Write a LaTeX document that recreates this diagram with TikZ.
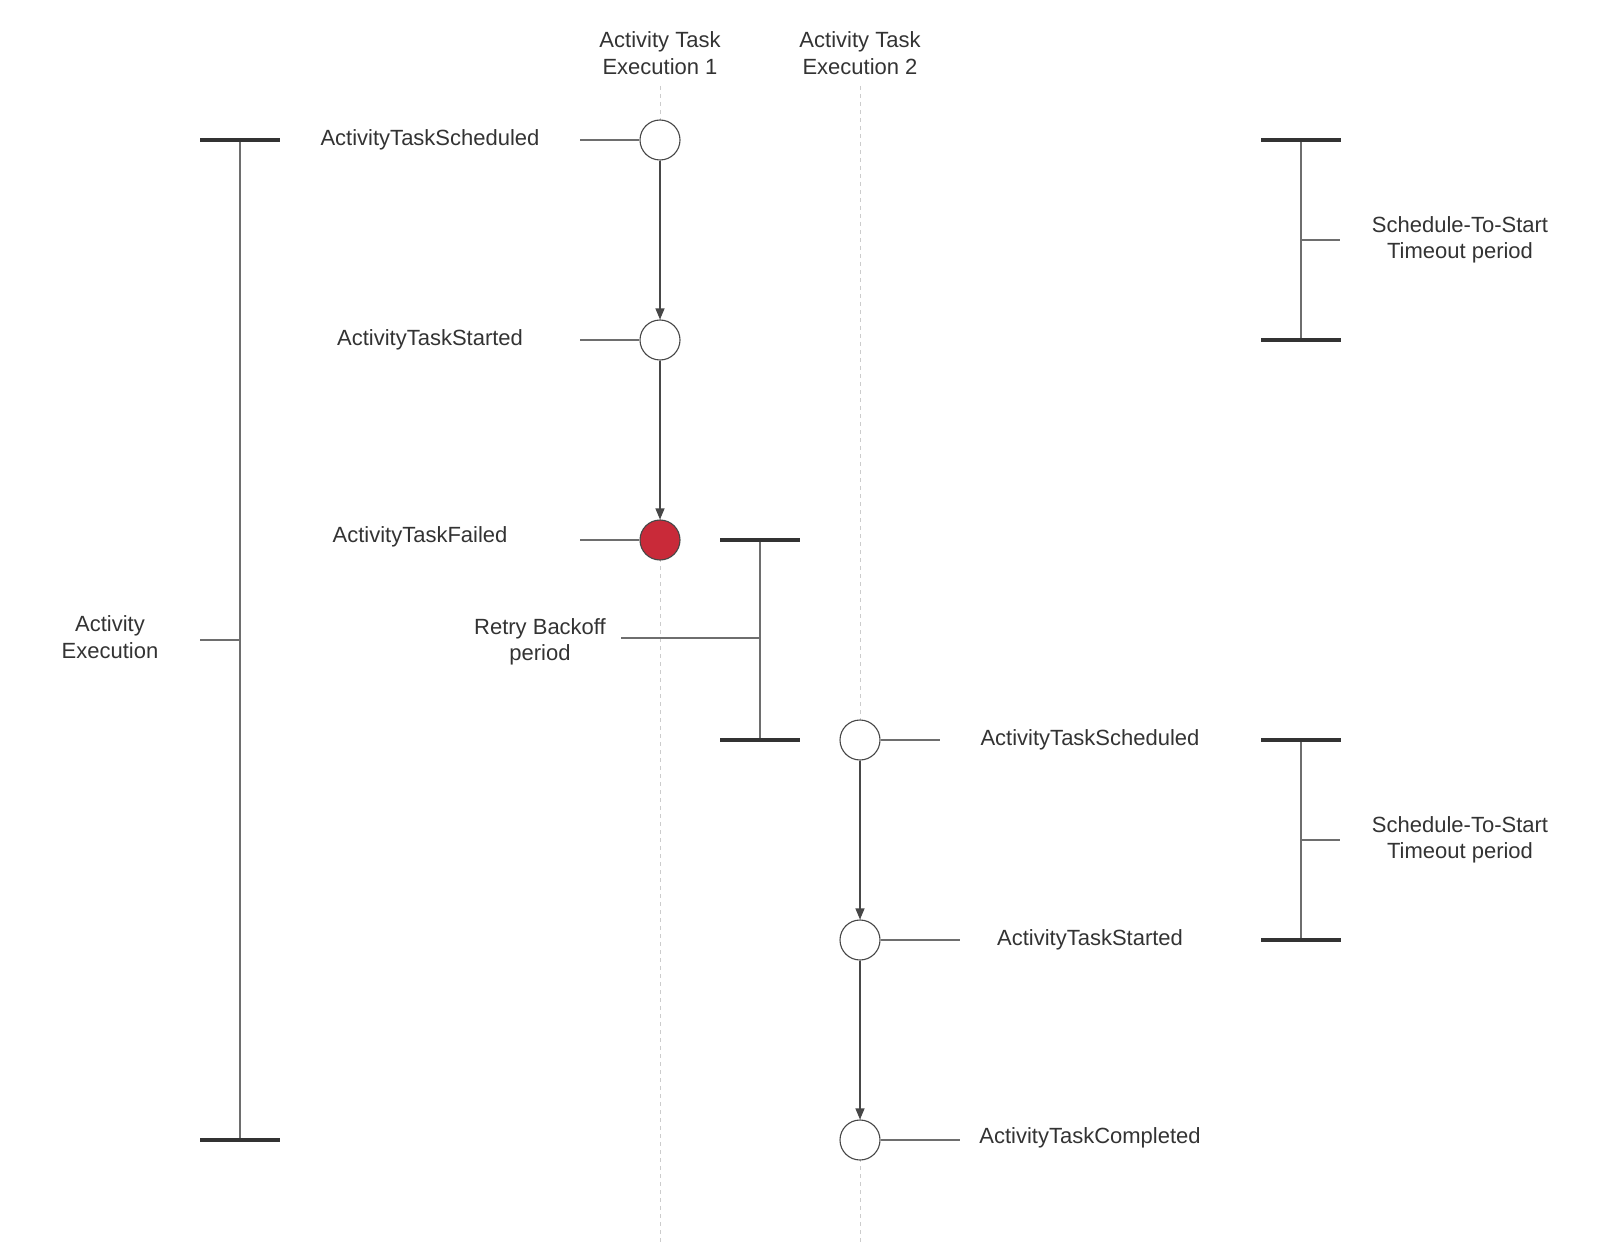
\documentclass[tikz,border=0pt]{standalone}
\usepackage{fontspec}
\setmainfont{Liberation Sans}
\usetikzlibrary{arrows.meta}
\definecolor{ink}{HTML}{333333}
\definecolor{wire}{HTML}{6E6E6E}
\definecolor{life}{HTML}{CCCCCC}
\definecolor{failred}{HTML}{C92A39}

\begin{document}
\begin{tikzpicture}[x=0.5pt,y=-0.5pt,
  evt/.style={circle,draw=ink!90,line width=0.55pt,fill=white,minimum size=20pt,inner sep=0pt},
  failevt/.style={evt,fill=failred},
  lbl/.style={font=\fontsize{11}{13.3}\selectfont,text=ink,align=center,inner sep=0pt},
  lifeline/.style={draw=life,line width=0.5pt,dash pattern=on 2pt off 2pt},
  tie/.style={draw=wire,line width=0.6pt},
  flow/.style={draw=ink!90,line width=0.6pt,-{Triangle[length=5.5pt,width=4.5pt]}},
  endbar/.style={draw=ink,line width=2pt},
]
\useasboundingbox (0,0) rectangle (1601,1246);

% lane headers and lifelines
\node[lbl] (lane1) at (660,53) {Activity Task\\Execution 1};
\node[lbl] (lane2) at (860,53) {Activity Task\\Execution 2};
\coordinate (top1) at (660,86);
\coordinate (top2) at (860,86);
\coordinate (end1) at (660,1246);
\coordinate (end2) at (860,1246);
\path[lifeline] (top1) -- (end1);
\path[lifeline] (top2) -- (end2);

% first execution
\node[evt] (s1) at (660,140) {};
\node[evt] (t1) at (660,340) {};
\node[failevt] (f1) at (660,540) {};
% second execution
\node[evt] (s2) at (860,740) {};
\node[evt] (t2) at (860,940) {};
\node[evt] (c2) at (860,1140) {};

\path[flow] (s1) -- (t1);
\path[flow] (t1) -- (f1);
\path[flow] (s2) -- (t2);
\path[flow] (t2) -- (c2);

% event labels
\node[lbl] (ls1) at (430,140) {ActivityTaskScheduled};
\node[lbl] (lt1) at (430,340) {ActivityTaskStarted};
\node[lbl] (lf1) at (420,537) {ActivityTaskFailed};
\node[lbl] (ls2) at (1090,740) {ActivityTaskScheduled};
\node[lbl] (lt2) at (1090,940) {ActivityTaskStarted};
\node[lbl] (lc2) at (1090,1138) {ActivityTaskCompleted};

\coordinate (ks1) at (580,140);
\coordinate (kt1) at (580,340);
\coordinate (kf1) at (580,540);
\coordinate (ks2) at (940,740);
\coordinate (kt2) at (960,940);
\coordinate (kc2) at (960,1140);
\path[tie] (ks1) -- (s1.west);
\path[tie] (kt1) -- (t1.west);
\path[tie] (kf1) -- (f1.west);
\path[tie] (s2.east) -- (ks2);
\path[tie] (t2.east) -- (kt2);
\path[tie] (c2.east) -- (kc2);

% activity execution period
\coordinate (ae1) at (240,140);
\coordinate (ae2) at (240,1140);
\coordinate (aem) at (240,640);
\path[tie] (ae1) -- (ae2);
\path[tie] (aem) -- ++(-40,0);
\path[endbar] (ae1) ++(-40,0) -- ++(80,0);
\path[endbar] (ae2) ++(-40,0) -- ++(80,0);
\node[lbl] (aelbl) at (110,637) {Activity\\Execution};

% retry backoff period
\coordinate (rb1) at (760,540);
\coordinate (rb2) at (760,740);
\coordinate (rbm) at (760,638);
\coordinate (rbk) at (621,638);
\path[tie] (rb1) -- (rb2);
\path[tie] (rbm) -- (rbk);
\path[endbar] (rb1) ++(-40,0) -- ++(80,0);
\path[endbar] (rb2) ++(-40,0) -- ++(80,0);
\node[lbl] (rblbl) at (540,642) {Retry Backoff\\period};

% schedule-to-start timeout periods
\coordinate (sa1) at (1301,140);
\coordinate (sa2) at (1301,340);
\coordinate (sam) at (1301,240);
\path[tie] (sa1) -- (sa2);
\path[tie] (sam) -- ++(39,0);
\path[endbar] (sa1) ++(-40,0) -- ++(80,0);
\path[endbar] (sa2) ++(-40,0) -- ++(80,0);
\node[lbl] (salbl) at (1460,240) {Schedule-To-Start\\Timeout period};

\coordinate (sb1) at (1301,740);
\coordinate (sb2) at (1301,940);
\coordinate (sbm) at (1301,840);
\path[tie] (sb1) -- (sb2);
\path[tie] (sbm) -- ++(39,0);
\path[endbar] (sb1) ++(-40,0) -- ++(80,0);
\path[endbar] (sb2) ++(-40,0) -- ++(80,0);
\node[lbl] (sblbl) at (1460,840) {Schedule-To-Start\\Timeout period};
\end{tikzpicture}
\end{document}
